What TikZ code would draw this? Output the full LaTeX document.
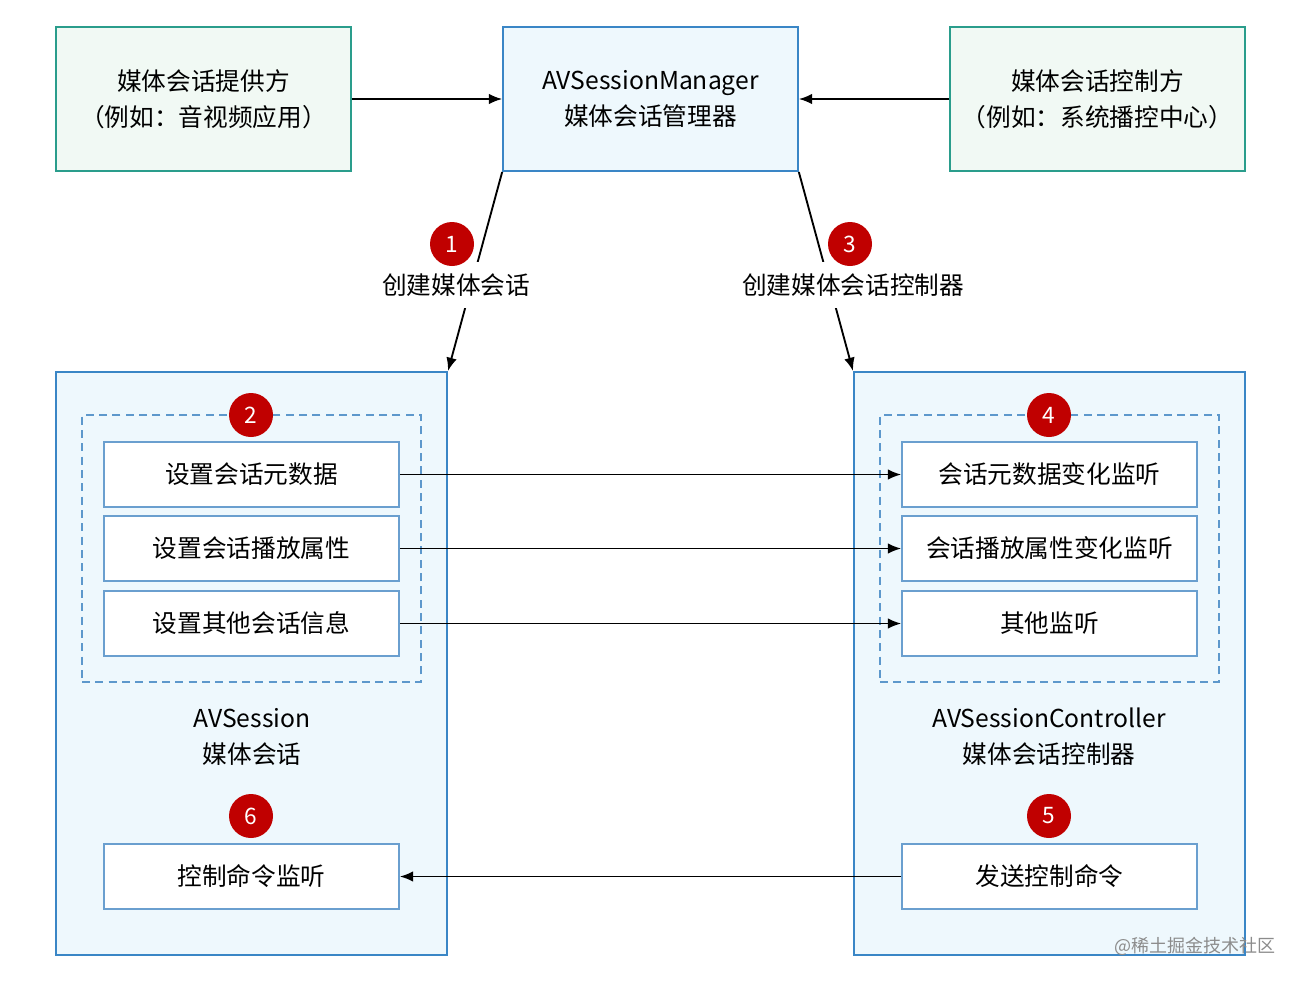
\documentclass[tikz,border=0pt]{standalone}
\usepackage{fontspec}
\setmainfont{Noto Sans CJK SC}
\usetikzlibrary{arrows.meta}
\definecolor{gfill}{HTML}{F1F9F4}
\definecolor{gborder}{HTML}{2A9D8C}
\definecolor{bfill}{HTML}{EEF8FD}
\definecolor{bborder}{HTML}{3A86C6}
\definecolor{iborder}{HTML}{6A9FCF}
\definecolor{dborder}{HTML}{5D98CC}
\definecolor{badge}{HTML}{C00000}
\tikzset{
  px/.style={x=0.75pt,y=-0.75pt},
  txt/.style={font=\fontsize{18.5}{27}\selectfont, align=center},
  greenbox/.style={draw=gborder, fill=gfill, line width=1.5pt, minimum width=221pt, minimum height=108pt, txt},
  bluebox/.style={draw=bborder, fill=bfill, line width=1.5pt},
  innerbox/.style={draw=iborder, fill=white, line width=1.5pt, minimum width=221pt, minimum height=48.75pt, txt},
  dashbox/.style={draw=dborder, dashed, dash pattern=on 6pt off 4pt, line width=1.1pt},
  numbadge/.style={circle, fill=badge, text=white, minimum size=33pt, inner sep=0pt, font=\fontsize{17}{17}\selectfont},
  conn/.style={line width=1.4pt, -{Latex[length=10pt,width=8pt]}},
}
\begin{document}
\begin{tikzpicture}[px]
\useasboundingbox (0,0) rectangle (1301,983);
% top boxes
\node[greenbox] (prov) at (203.5,99) {媒体会话提供方\\（例如：音视频应用）};
\node[bluebox, minimum width=221pt, minimum height=108pt, txt] (mgr) at (650.5,99) {AVSessionManager\\媒体会话管理器};
\node[greenbox] (ctrlp) at (1097.5,99) {媒体会话控制方\\（例如：系统播控中心）};
\draw[conn] (prov.east) -- (mgr.west);
\draw[conn] (ctrlp.west) -- (mgr.east);
% big boxes
\node[bluebox, minimum width=293.25pt, minimum height=437.25pt] (sess) at (251.5,663.5) {};
\node[bluebox, minimum width=293.25pt, minimum height=437.25pt] (ctrl) at (1049.5,663.5) {};
% dashed groups
\node[dashbox, minimum width=254.25pt, minimum height=200.25pt] (gl) at (251.5,548.5) {};
\node[dashbox, minimum width=254.25pt, minimum height=200.25pt] (gr) at (1049.5,548.5) {};
% inner boxes
\node[innerbox] (l1) at (251.5,474.5) {设置会话元数据};
\node[innerbox] (l2) at (251.5,548.5) {设置会话播放属性};
\node[innerbox] (l3) at (251.5,623.5) {设置其他会话信息};
\node[innerbox] (l4) at (251.5,876.5) {控制命令监听};
\node[innerbox] (r1) at (1049.5,474.5) {会话元数据变化监听};
\node[innerbox] (r2) at (1049.5,548.5) {会话播放属性变化监听};
\node[innerbox] (r3) at (1049.5,623.5) {其他监听};
\node[innerbox] (r4) at (1049.5,876.5) {发送控制命令};
\draw[conn] (l1.east) -- (r1.west);
\draw[conn] (l2.east) -- (r2.west);
\draw[conn] (l3.east) -- (r3.west);
\draw[conn] (r4.west) -- (l4.east);
% captions
\node[txt] (sessT) at (252,737) {AVSession\\媒体会话};
\node[txt] (ctrlT) at (1049,737) {AVSessionController\\媒体会话控制器};
% slanted connectors
\draw[conn] (mgr.south west) -- (sess.north east);
\draw[conn] (mgr.south east) -- (ctrl.north west);
\node[txt, fill=white, inner ysep=9pt, inner xsep=2pt] (lab1) at (456,285) {创建媒体会话};
\node[txt, fill=white, inner ysep=9pt, inner xsep=2pt] (lab3) at (853,285) {创建媒体会话控制器};
% badges
\node[numbadge] (b1) at (452,244) {1};
\node[numbadge] (b2) at (251,415) {2};
\node[numbadge] (b3) at (850,244) {3};
\node[numbadge] (b4) at (1049,415) {4};
\node[numbadge] (b5) at (1049,816) {5};
\node[numbadge] (b6) at (251,816) {6};
% watermark
\node[text=black!45, font=\fontsize{13.5}{14}\selectfont] (wm) at (1195,946) {@稀土掘金技术社区};
\end{tikzpicture}
\end{document}
